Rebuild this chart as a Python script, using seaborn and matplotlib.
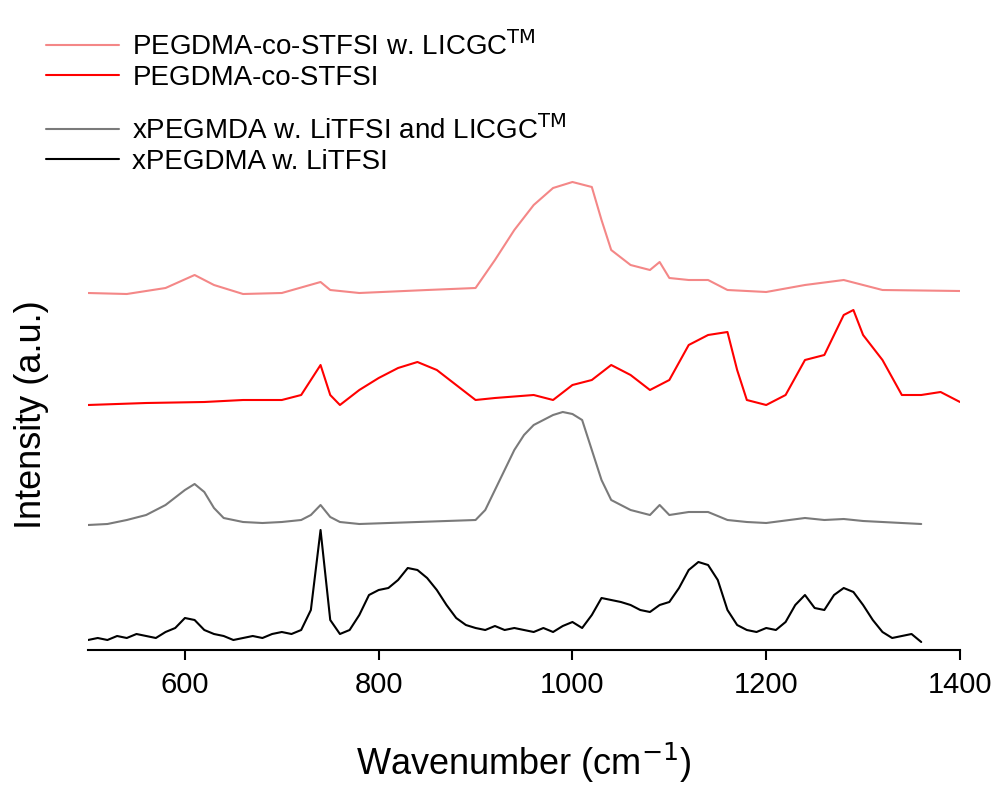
import matplotlib
matplotlib.use("Agg")
import matplotlib.pyplot as plt
import seaborn as sns
import numpy as np

sns.set_style("white")
plt.rcParams['font.family'] = ['Liberation Sans', 'DejaVu Sans']
plt.rcParams['text.color'] = 'black'
plt.rcParams['axes.labelcolor'] = 'black'
plt.rcParams['xtick.color'] = 'black'

black_x = [500,510,520,530,540,550,560,570,580,590,600,610,620,630,640,650,660,670,680,690,700,710,720,730,740,750,760,770,780,790,800,810,820,830,840,850,860,870,880,890,900,910,920,930,940,950,960,970,980,990,1000,1010,1020,1030,1040,1050,1060,1070,1080,1090,1100,1110,1120,1130,1140,1150,1160,1170,1180,1190,1200,1210,1220,1230,1240,1250,1260,1270,1280,1290,1300,1310,1320,1330,1340,1350,1360]
black_y = [10,12,10,14,12,16,14,12,18,22,32,30,20,16,14,10,12,14,12,16,18,16,20,40,120,30,16,20,35,55,60,62,70,82,80,72,60,45,32,25,22,20,24,20,22,20,18,22,18,24,28,22,35,52,50,48,45,40,38,45,48,62,80,88,85,70,40,25,20,18,22,20,28,45,55,42,40,55,62,58,45,30,18,12,14,16,8]
gray_x = [500,520,540,560,580,600,610,620,630,640,660,680,700,720,730,740,750,760,780,900,910,920,930,940,950,960,970,980,990,1000,1010,1020,1030,1040,1060,1080,1090,1100,1120,1140,1160,1180,1200,1240,1260,1280,1300,1360]
gray_y = [125,126,130,135,145,160,166,158,142,132,128,127,128,130,135,145,133,128,126,130,140,160,180,200,215,225,230,235,238,236,230,200,170,150,140,135,145,135,138,138,130,128,127,132,130,131,129,126]
red_x = [500,560,620,660,700,720,740,750,760,780,800,820,840,860,880,900,920,960,980,1000,1020,1040,1060,1080,1100,1120,1140,1160,1170,1180,1200,1220,1240,1260,1280,1290,1300,1320,1340,1360,1380,1400]
red_y = [245,247,248,250,250,255,285,255,245,260,272,282,288,280,265,250,252,255,250,265,270,285,275,260,270,305,315,318,280,250,245,255,290,295,335,340,315,290,255,255,258,248]
pink_x = [500,540,580,610,630,660,700,740,750,780,850,900,920,940,960,980,1000,1020,1030,1040,1060,1080,1090,1100,1120,1140,1160,1200,1240,1280,1320,1400]
pink_y = [357,356,362,375,365,356,357,368,360,357,360,362,390,420,445,462,468,463,430,400,385,380,388,372,370,370,360,358,365,370,360,359]

fig = plt.figure(figsize=(10.05, 8.0), dpi=100)
ax = fig.add_axes([0.0876, 0.1875, 0.8676, 0.5875])
h1, = ax.plot(pink_x, pink_y, color='#f48787', lw=1.5)
h2, = ax.plot(red_x, red_y, color='#ff0000', lw=1.5)
h3, = ax.plot(gray_x, gray_y, color='#7a7a7a', lw=1.5)
h4, = ax.plot(black_x, black_y, color='black', lw=1.5)
ax.set_xlim(500, 1400)
ax.set_ylim(0, 470)
ax.set_yticks([])
ax.set_xticks([600, 800, 1000, 1200, 1400])
ax.tick_params(axis='x', labelsize=21, length=7, width=1.5, direction='out', bottom=True, pad=8)
for s in ['top', 'right', 'left']:
    ax.spines[s].set_visible(False)
ax.spines['bottom'].set_linewidth(1.5)
ax.spines['bottom'].set_color('black')
ax.set_xlabel('Wavenumber (cm$^{-1}$)', fontsize=26, labelpad=30)
ax.set_ylabel('Intensity (a.u.)', fontsize=26, labelpad=28)
kw = dict(loc='upper left', frameon=False, fontsize=20, handlelength=2.6,
          handletextpad=0.5, labelspacing=0.15, borderaxespad=0)
leg1 = fig.legend([h1, h2], ['PEGDMA-co-STFSI w. LICGC$^{\\mathrm{TM}}$', 'PEGDMA-co-STFSI'],
                  bbox_to_anchor=(0.035, 0.975), **kw)
leg2 = fig.legend([h3, h4], ['xPEGMDA w. LiTFSI and LICGC$^{\\mathrm{TM}}$', 'xPEGDMA w. LiTFSI'],
                  bbox_to_anchor=(0.035, 0.87), **kw)
fig.savefig('out.png', dpi=100)
